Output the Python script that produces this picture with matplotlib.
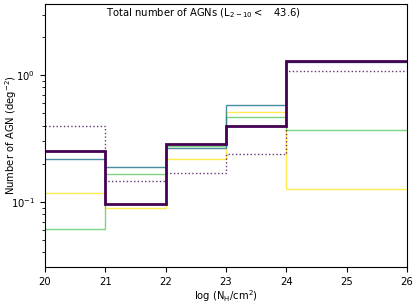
import numpy as np
import matplotlib
matplotlib.use("Agg")
import matplotlib.pyplot as plt

plt.rcParams["mathtext.default"] = "regular"
plt.rcParams["font.size"] = 7.2

#NH bin edges
edges = [20, 21, 22, 23, 24, 26]

#Number of AGN per bin for each model
n_yellow = [0.118, 0.089, 0.220, 0.513, 0.126]
n_green = [0.0616, 0.167, 0.277, 0.466, 0.370]
n_teal = [0.217, 0.187, 0.264, 0.580, 1.266]
n_dotted = [0.398, 0.1465, 0.168, 0.238, 1.076]
n_total = [0.254, 0.0964, 0.287, 0.398, 1.30]

fig = plt.figure(figsize=(4.15, 3.05), dpi=100)
ax = fig.add_axes([0.108, 0.125, 0.873, 0.862])

ax.stairs(n_yellow, edges, baseline=None, color="#fde725", lw=1.0, alpha=0.8)
ax.stairs(n_green, edges, baseline=None, color="#5ec962", lw=1.0, alpha=0.8)
ax.stairs(n_teal, edges, baseline=None, color="#2a788e", lw=1.0, alpha=0.85)
ax.stairs(n_dotted, edges, baseline=None, color="#440154", lw=1.0, ls=":", alpha=0.8)
ax.stairs(n_total, edges, baseline=None, color="#440154", lw=2.0)

ax.set_yscale("log")
ax.set_xlim(20, 26)
ax.set_ylim(0.0307, 3.65)
ax.set_xlabel("log (N$_{H}$/cm$^2$)", labelpad=1)
ax.set_ylabel("Number of AGN (deg$^{-2}$)")
ax.yaxis.set_label_coords(-0.072, 0.5)
ax.text(21.01, 3.1, "Total number of AGNs (L$_{2-10}<$   43.6)", ha="left", va="center")

fig.savefig("out.png", dpi=100)
